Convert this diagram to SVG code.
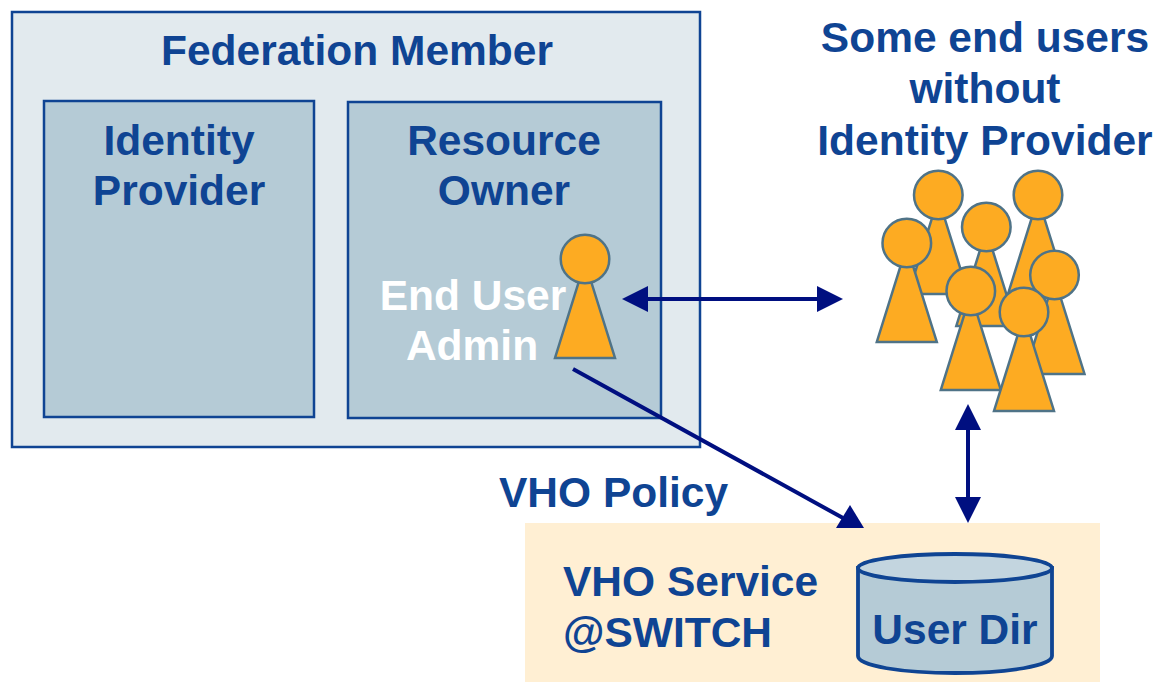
<svg xmlns="http://www.w3.org/2000/svg" width="1158" height="682" viewBox="0 0 1158 682">
<style>
text{font-family:"Liberation Sans",Arial,sans-serif;font-weight:700;font-size:42.5px;fill:#0f4493;text-anchor:middle}
.l{text-anchor:start}
.w{fill:#fff}
.box{fill:#b5cbd6;stroke:#0f4493;stroke-width:2.5}
.conn{stroke:#000f80;stroke-width:4;fill:none}
.p{fill:#fdab22;stroke:#4f7387;stroke-width:2.5}
</style>
<defs>
<g id="person"><path class="p" d="M0 3L30 99H-30Z"/><circle class="p" cx="0" cy="0" r="24.3"/></g>
<marker id="ah" markerUnits="userSpaceOnUse" markerWidth="26" markerHeight="26" refX="2" refY="13" orient="auto-start-reverse" viewBox="0 0 26 26"><path d="M0 0L26 13L0 26Z" fill="#000f80"/></marker>
</defs>
<g id="federation-member"><rect x="12" y="12" width="688" height="435" fill="#e2eaee" stroke="#0f4493" stroke-width="2.5"/><text x="357" y="65">Federation Member</text></g>
<g id="identity-provider"><rect class="box" x="44" y="101" width="270" height="316"/><text x="179" y="155">Identity</text><text x="179" y="205">Provider</text></g>
<g id="resource-owner"><rect class="box" x="348" y="102" width="313" height="316"/><text x="504" y="155">Resource</text><text x="504" y="205">Owner</text></g>
<g id="end-user-admin"><text class="w" x="473" y="310">End User</text><text class="w" x="472" y="360">Admin</text><use href="#person" x="585" y="259"/></g>
<g id="end-users"><text x="985" y="52">Some end users</text><text x="985" y="103">without</text><text x="985" y="155">Identity Provider</text>
<use href="#person" x="938.3" y="195"/><use href="#person" x="1038" y="195"/><use href="#person" x="986.3" y="227"/><use href="#person" x="906.8" y="243"/><use href="#person" x="1054.5" y="275"/><use href="#person" x="970.8" y="291"/><use href="#person" x="1024" y="312"/></g>
<g id="vho-service"><rect x="525" y="523" width="575" height="159" fill="#ffefd3"/><text class="l" x="563" y="596">VHO Service</text><text class="l" x="563" y="647">@SWITCH</text></g>
<g id="user-dir"><path d="M858 568V656C858 666 902 673 955 673S1052 666 1052 656V568Z" fill="#b5cbd6" stroke="#0f4493" stroke-width="3.8"/><ellipse cx="955" cy="568" rx="97" ry="14" fill="#c3d5df" stroke="#0f4493" stroke-width="3.8"/><text x="955" y="644">User Dir</text></g>
<g id="vho-policy"><text class="l" x="499" y="507">VHO Policy</text></g>
<g id="connectors">
<line class="conn" x1="646" y1="299" x2="819" y2="299" marker-start="url(#ah)" marker-end="url(#ah)"/>
<line class="conn" x1="573" y1="369" x2="843" y2="518"/>
<path d="M850 505L864 528H836Z" fill="#000f80"/>
<line class="conn" x1="968" y1="428" x2="968" y2="499" marker-start="url(#ah)" marker-end="url(#ah)"/>
</g>
</svg>
